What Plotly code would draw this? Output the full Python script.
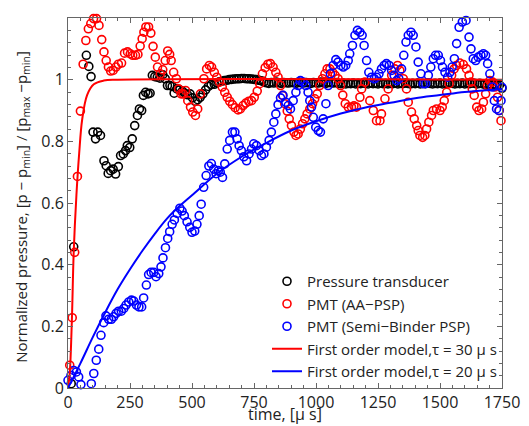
import plotly.graph_objects as go

# ---------------- data ----------------
# Pressure transducer (black)
pt_t = [13, 23, 74, 84, 93, 101, 111, 120, 131, 145, 154, 162, 172, 182, 192, 203, 212, 223, 232, 239, 249,
        259, 269, 280, 288, 297, 304, 313, 323, 331, 340, 350, 360, 371, 382, 392, 401, 411, 420, 428, 439,
        450, 461, 471, 482, 492, 502, 513, 523, 533, 544, 555, 566, 577]
pt_p = [0.014, 0.458, 1.079, 1.043, 1.010, 0.830, 0.808, 0.830, 0.819, 0.737, 0.721, 0.696, 0.705, 0.710,
        0.694, 0.718, 0.754, 0.759, 0.770, 0.786, 0.780, 0.808, 0.851, 0.884, 0.905, 0.900, 0.949, 0.959,
        0.954, 0.956, 1.014, 1.010, 1.008, 1.005, 1.016, 1.003, 0.981, 0.981, 0.978, 0.956, 0.970, 0.967,
        0.963, 0.956, 0.951, 0.954, 0.941, 0.930, 0.935, 0.943, 0.954, 0.967, 0.978, 0.984]
# densely sampled steady part of the transducer signal (every 10 us from 590 us)
pt_dense_t = list(range(590, 1750, 10)) + [1750]
pt_dense_p = [0.985, 0.990, 0.993, 0.995, 0.997, 0.998,
              1.000, 1.001, 1.002, 1.003, 1.003, 1.004, 1.004, 1.003, 1.003, 1.002, 1.001, 1.000, 0.998, 0.996,
              0.993,
              0.990, 0.988, 0.991, 0.989, 0.992, 0.990, 0.988, 0.991, 0.990, 0.989,
              0.991, 0.990, 0.988, 0.992, 0.990, 0.989, 0.991, 0.990, 0.988, 0.991,
              0.990, 0.989, 0.992, 0.990, 0.988, 0.991, 0.990, 0.989, 0.991, 0.988,
              0.987, 0.989, 0.986, 0.988, 0.987, 0.989, 0.986, 0.988, 0.987, 0.989,
              0.988, 0.986, 0.989, 0.987, 0.988, 0.986, 0.989, 0.987, 0.988, 0.986,
              0.988, 0.987, 0.989, 0.986, 0.988, 0.987, 0.989, 0.988, 0.986, 0.988,
              0.987, 0.989, 0.986, 0.988, 0.987, 0.989, 0.988, 0.986, 0.988, 0.987,
              0.989, 0.986, 0.988, 0.987, 0.989, 0.988, 0.986, 0.988, 0.987, 0.989,
              0.986, 0.988, 0.987, 0.989, 0.988, 0.986, 0.988, 0.987, 0.985, 0.984,
              0.985, 0.983, 0.984, 0.982, 0.983,
              0.972]

# PMT (AA-PSP) (red)
aa_t = [7, 17, 27, 38, 50, 61, 72, 82, 92, 103, 115, 125, 136, 145, 154, 163, 172, 182, 193, 203, 216, 228,
        240, 251, 261, 272, 282, 291, 299, 306, 314, 325, 334, 343, 352, 361, 372, 382, 392, 402, 410, 416,
        426, 437, 446, 456, 464, 474, 483, 494, 503, 514, 523, 534, 548, 559, 570, 579, 590, 600, 611, 622,
        632, 642, 652, 663, 674, 686, 695, 706, 717, 729, 740, 751, 763, 773, 784, 795, 806, 816, 827, 838,
        847, 857, 865, 874, 884, 892, 901, 911, 919, 928, 937, 946, 955, 964, 975, 986, 995, 1005, 1015,
        1026, 1036, 1045, 1056, 1067, 1077, 1089, 1099, 1108, 1118, 1130, 1143, 1153, 1163, 1177, 1184,
        1197, 1217, 1231, 1244, 1258, 1264, 1278, 1291, 1305, 1318, 1329, 1338, 1352, 1365, 1372, 1385,
        1396, 1406, 1412, 1419, 1430, 1439, 1446, 1455, 1466, 1473, 1486, 1500, 1509, 1517, 1527, 1537,
        1547, 1557, 1567, 1580, 1594, 1607, 1617, 1625, 1630, 1638, 1648, 1657, 1668, 1675, 1684, 1692,
        1701, 1712, 1722, 1732, 1739, 1746]
aa_p = [0.074, 0.228, 0.440, 0.686, 0.898, 1.050, 1.127, 1.165, 1.182, 1.198, 1.198, 1.176, 1.130, 1.090,
        1.062, 1.041, 1.028, 1.030, 1.041, 1.050, 1.054, 1.086, 1.090, 1.084, 1.079, 1.079, 1.082, 1.109,
        1.133, 1.154, 1.171, 1.171, 1.151, 1.108, 1.073, 1.041, 1.019, 1.032, 1.062, 1.093, 1.082, 1.062,
        1.024, 1.003, 0.970, 0.954, 0.954, 0.965, 0.932, 0.911, 0.895, 0.884, 0.905, 0.954, 1.003, 1.035,
        1.046, 1.041, 1.024, 1.008, 0.992, 0.976, 0.959, 0.943, 0.930, 0.919, 0.909, 0.902, 0.905, 0.916,
        0.924, 0.930, 0.932, 0.943, 0.963, 0.987, 1.019, 1.039, 1.050, 1.052, 1.041, 1.024, 1.008, 0.981,
        0.949, 0.922, 0.898, 0.873, 0.851, 0.830, 0.819, 0.824, 0.840, 0.857, 0.873, 0.889, 0.905, 0.922,
        0.938, 0.954, 0.981, 1.003, 1.019, 1.035, 1.035, 1.024, 1.014, 1.003, 0.981, 0.950, 0.922, 0.911,
        0.911, 0.915, 0.911, 0.943, 0.970, 0.992, 0.932, 0.900, 0.867, 0.867, 0.889, 0.938, 0.970, 1.014,
        1.035, 1.046, 1.030, 1.003, 0.970, 0.927, 0.895, 0.873, 0.851, 0.835, 0.819, 0.813, 0.819, 0.840,
        0.862, 0.884, 0.900, 0.905, 0.900, 0.911, 0.932, 0.959, 0.987, 1.014, 1.035, 1.046, 1.054, 1.049,
        1.035, 1.014, 0.992, 0.970, 0.949, 0.911, 0.900, 0.905, 0.927, 0.954, 0.981, 0.997, 0.992, 0.976,
        0.943, 0.900, 0.867]

# PMT (Semi-Binder PSP) (blue)
sb_t = [0, 12, 23, 34, 43, 52, 94, 104, 114, 124, 133, 144, 153, 164, 175, 184, 194, 204, 215, 225, 234,
        245, 256, 265, 276, 286, 297, 305, 316, 325, 335, 346, 355, 366, 375, 383, 393, 402, 410, 420, 429,
        440, 451, 460, 469, 480, 491, 500, 511, 520, 529, 537, 547, 557, 568, 578, 588, 597, 606, 614, 623,
        632, 642, 652, 663, 673, 682, 690, 699, 709, 720, 730, 740, 749, 760, 771, 780, 790, 800, 811, 820,
        830, 838, 847, 857, 867, 878, 888, 897, 908, 919, 928, 937, 948, 959, 968, 975, 982, 989, 999, 1009,
        1018, 1029, 1040, 1049, 1058, 1069, 1080, 1089, 1100, 1110, 1120, 1130, 1136, 1147, 1157, 1167,
        1177, 1186, 1194, 1204, 1213, 1224, 1235, 1244, 1254, 1264, 1275, 1284, 1295, 1305, 1315, 1325,
        1334, 1345, 1354, 1363, 1372, 1383, 1392, 1403, 1412, 1423, 1432, 1442, 1453, 1463, 1473, 1482,
        1493, 1502, 1510, 1520, 1531, 1540, 1549, 1558, 1567, 1577, 1590, 1605, 1617, 1625, 1634, 1644,
        1654, 1665, 1675, 1684, 1692, 1701, 1711, 1719, 1728, 1738, 1746, 1750]
sb_p = [0.025, 0.041, 0.057, 0.052, 0.036, 0.011, 0.014, 0.047, 0.090, 0.126, 0.171, 0.212, 0.234, 0.223,
        0.223, 0.231, 0.242, 0.249, 0.249, 0.258, 0.269, 0.279, 0.285, 0.282, 0.269, 0.263, 0.263, 0.292,
        0.334, 0.368, 0.375, 0.375, 0.361, 0.371, 0.393, 0.422, 0.455, 0.485, 0.507, 0.531, 0.545, 0.566,
        0.583, 0.574, 0.559, 0.539, 0.521, 0.505, 0.509, 0.531, 0.559, 0.596, 0.651, 0.689, 0.720, 0.728,
        0.710, 0.695, 0.705, 0.700, 0.683, 0.727, 0.775, 0.803, 0.830, 0.830, 0.808, 0.786, 0.770, 0.750,
        0.737, 0.759, 0.775, 0.792, 0.786, 0.770, 0.754, 0.759, 0.781, 0.803, 0.830, 0.862, 0.889, 0.919,
        0.941, 0.949, 0.927, 0.916, 0.905, 0.932, 0.959, 0.981, 0.997, 0.992, 0.981, 0.959, 0.932, 0.911,
        0.878, 0.846, 0.835, 0.830, 0.873, 0.922, 0.981, 1.019, 1.046, 1.065, 1.057, 1.046, 1.041, 1.046,
        1.062, 1.084, 1.111, 1.144, 1.160, 1.154, 1.144, 1.111, 1.062, 1.024, 1.008, 1.003, 1.008, 1.019,
        1.035, 1.046, 1.052, 1.046, 1.030, 1.014, 0.997, 1.003, 1.035, 1.079, 1.122, 1.144, 1.154, 1.144,
        1.106, 1.057, 1.019, 0.987, 0.987, 1.014, 1.041, 1.068, 1.079, 1.079, 1.062, 1.041, 1.024, 1.008,
        1.024, 1.041, 1.068, 1.117, 1.170, 1.187, 1.192, 1.138, 1.100, 1.068, 1.062, 1.073, 1.079, 1.084,
        1.079, 1.052, 1.019, 0.976, 0.932, 0.905, 0.900, 0.932, 0.975]

# First order model curves
m30_t = [0, 5, 9, 16, 23, 34, 45, 57, 77, 104, 144, 200, 1750]
m30_p = [0.0, 0.03, 0.074, 0.23, 0.44, 0.626, 0.76, 0.87, 0.95, 0.985, 0.997, 1.0, 1.0]
m20_t = [0, 50, 100, 150, 200, 250, 300, 350, 400, 450, 500, 600, 700, 800, 900, 1000, 1100, 1200,
         1300, 1400, 1500, 1600, 1750]
m20_p = [0.0, 0.08, 0.165, 0.245, 0.32, 0.385, 0.445, 0.5, 0.55, 0.59, 0.625, 0.695, 0.75, 0.795, 0.835,
         0.865, 0.89, 0.91, 0.925, 0.94, 0.95, 0.96, 0.97]

x_ticks = [0, 250, 500, 750, 1000, 1250, 1500, 1750]
y_ticks = [0, 0.2, 0.4, 0.6, 0.8, 1.0, 1.2]
y_tick_text = ["0", "0.2", "0.4", "0.6", "0.8", "1", "1.2"]

# ---------------- figure ----------------
FONT = "Open Sans, Noto Sans, sans-serif"
TXT = "#222222"
AX = "#666666"
mk = dict(symbol="circle-open", size=8, line=dict(width=1.6))

fig = go.Figure()
fig.add_trace(go.Scatter(x=pt_t + pt_dense_t, y=pt_p + pt_dense_p, mode="markers",
                         name="Pressure transducer", cliponaxis=False,
                         marker=dict(color="#000000", **mk)))
fig.add_trace(go.Scatter(x=aa_t, y=aa_p, mode="markers", name="PMT (AA\u2212PSP)", cliponaxis=False,
                         marker=dict(color="#ff0000", **mk)))
fig.add_trace(go.Scatter(x=sb_t, y=sb_p, mode="markers", name="PMT (Semi\u2212Binder PSP)",
                         cliponaxis=False, marker=dict(color="#0000ff", **mk)))
fig.add_trace(go.Scatter(x=m30_t, y=m30_p, mode="lines", line=dict(color="#ff0000", width=2, shape="spline"),
                         name="First order model,\u03c4 = 30 \u03bc s"))
fig.add_trace(go.Scatter(x=m20_t, y=m20_p, mode="lines", line=dict(color="#0000ff", width=2, shape="spline"),
                         name="First order model,\u03c4 = 20 \u03bc s"))

axis_common = dict(showgrid=False, zeroline=False, showline=True, linecolor=AX, linewidth=1,
                   mirror="ticks", ticks="inside", ticklen=5, tickcolor=AX, automargin=False,
                   tickfont=dict(family=FONT, size=16, color=TXT))

fig.update_xaxes(range=[0, 1750], tickvals=x_ticks, ticktext=[str(v) for v in x_ticks],
                 minor=dict(dtick=50, ticks="inside", ticklen=3, tickcolor=AX),
                 **axis_common)
fig.update_yaxes(range=[0, 1.2], tickvals=y_ticks, ticktext=y_tick_text,
                 minor=dict(dtick=0.04, ticks="inside", ticklen=3, tickcolor=AX),
                 **axis_common)

fig.add_annotation(text="time, [\u03bc s]", xref="paper", yref="paper", x=0.5, y=-0.07,
                   xanchor="center", yanchor="middle", showarrow=False,
                   font=dict(family=FONT, size=16, color=TXT))
fig.add_annotation(text="Normalized pressure, [p \u2212 p<sub>min</sub>] / [p<sub>max</sub> \u2212p<sub>min</sub>]",
                   xref="paper", yref="paper", x=-0.106, y=0.49, textangle=-90,
                   xanchor="center", yanchor="middle", showarrow=False,
                   font=dict(family=FONT, size=15, color=TXT))

# The page body adds an 8 px margin at top/left, so the figure is 8 px smaller
# and its margins are measured from that offset.
fig.update_layout(
    width=521, height=418,
    margin=dict(l=60, r=27, t=10, b=38),
    paper_bgcolor="white", plot_bgcolor="white",
    font=dict(family=FONT, size=16, color=TXT),
    showlegend=True,
    legend=dict(x=1.0, y=0.0, xanchor="right", yanchor="bottom", bgcolor="rgba(0,0,0,0)",
                font=dict(family=FONT, size=15, color=TXT), itemwidth=30,
                tracegroupgap=0),
)

fig.write_html("out.html")
